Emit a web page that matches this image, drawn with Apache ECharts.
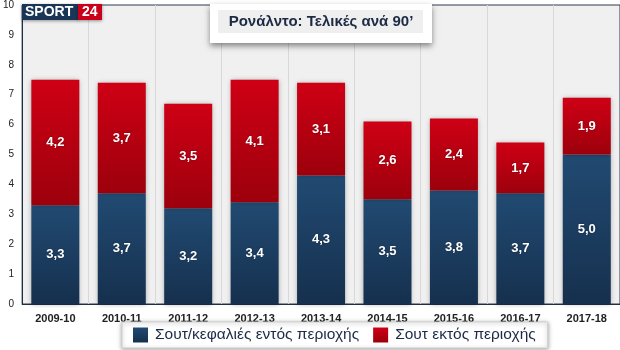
<!DOCTYPE html>
<html>
<head>
<meta charset="utf-8">
<script src="https://cdn.jsdelivr.net/npm/echarts@6/dist/echarts.min.js"></script>
<style>
  html, body { margin: 0; padding: 0; background: #ffffff; }
  #chart { width: 620px; height: 350px; }
</style>
</head>
<body>
<div id="chart"></div>
<script>
// Seasons and per-90 shot breakdown
const seasons = ['2009-10', '2010-11', '2011-12', '2012-13', '2013-14', '2014-15', '2015-16', '2016-17', '2017-18'];
const insideBox = [3.3, 3.7, 3.2, 3.4, 4.3, 3.5, 3.8, 3.7, 5.0];
const outsideBox = [4.2, 3.7, 3.5, 4.1, 3.1, 2.6, 2.4, 1.7, 1.9];
const yTicks = [0, 1, 2, 3, 4, 5, 6, 7, 8, 9, 10];

const seriesNames = ['Σουτ/κεφαλιές εντός περιοχής', 'Σουτ εκτός περιοχής'];
const chartTitle = 'Ρονάλντο: Τελικές ανά 90’';

const FONT = '"Liberation Sans", Arial, sans-serif';
const fmt = p => p.value.toFixed(1).replace('.', ',');

const grad = (top, bottom) => new echarts.graphic.LinearGradient(0, 0, 0, 1, [
  { offset: 0, color: top }, { offset: 1, color: bottom }
]);

const labelStyle = {
  show: true, position: 'inside', color: '#ffffff', fontFamily: FONT,
  fontWeight: 'bold', fontSize: 13, formatter: fmt,
  textShadowColor: 'rgba(0,0,0,0.35)', textShadowBlur: 2
};

const chart = echarts.init(document.getElementById('chart'), null, { renderer: 'canvas' });
chart.setOption({
  animation: false,
  backgroundColor: '#ffffff',
  grid: {
    left: 22, right: 0, top: 4, bottom: 46,
    show: true, backgroundColor: '#f0f0f0', borderColor: '#2b3b4f', borderWidth: 1
  },
  xAxis: {
    type: 'category', data: seasons,
    axisLine: { lineStyle: { color: '#1f2f45', width: 1 } },
    axisTick: { show: false },
    splitLine: { show: true, lineStyle: { color: '#d8d8d8', width: 1 } },
    axisLabel: { color: '#222', fontFamily: FONT, fontWeight: 'bold', fontSize: 11, margin: 9 }
  },
  yAxis: {
    type: 'value', min: 0, max: 10, interval: 1,
    axisLine: { show: true, lineStyle: { color: '#1f2f45', width: 1 } },
    axisTick: { show: false },
    splitLine: { show: false },
    axisLabel: {
      color: '#222', fontFamily: FONT, fontSize: 10, margin: 8,
      formatter: v => (yTicks.includes(v) ? String(v) : '')
    }
  },
  legend: {
    data: seriesNames,
    bottom: 2, left: 122,
    itemWidth: 15, itemHeight: 15, itemGap: 14,
    icon: 'rect',
    backgroundColor: '#ffffff',
    borderColor: '#d0d0d0', borderWidth: 1,
    shadowColor: 'rgba(0,0,0,0.35)', shadowBlur: 4, shadowOffsetY: 1,
    padding: [5, 12, 5, 11],
    textStyle: { color: '#1c2a44', fontFamily: FONT, fontSize: 15.5, padding: [0, 0, 0, 2] }
  },
  series: [
    {
      name: seriesNames[0], type: 'bar', stack: 'shots', data: insideBox,
      barWidth: 48,
      itemStyle: { color: grad('#214a72', '#16304e'), shadowColor: 'rgba(0,0,0,0.35)', shadowBlur: 5 },
      label: labelStyle
    },
    {
      name: seriesNames[1], type: 'bar', stack: 'shots', data: outsideBox,
      barWidth: 48,
      itemStyle: { color: grad('#cf0015', '#9c000c'), shadowColor: 'rgba(0,0,0,0.35)', shadowBlur: 5 },
      label: labelStyle
    }
  ],
  graphic: [
    // logo
    {
      type: 'group', left: 22, top: 4,
      children: [
        { type: 'rect', z: 100, shape: { x: 0, y: 0, width: 57, height: 16 },
          style: { fill: '#1b3556', shadowColor: 'rgba(0,0,0,0.4)', shadowBlur: 3, shadowOffsetY: 1 } },
        { type: 'rect', z: 100, shape: { x: 56, y: 0, width: 24, height: 16 },
          style: { fill: '#c8001a', shadowColor: 'rgba(0,0,0,0.4)', shadowBlur: 3, shadowOffsetY: 1 } },
        { type: 'text', z: 101, x: 3, y: 1,
          style: { text: 'SPORT', fill: '#ffffff', font: 'bold 14px ' + FONT } },
        { type: 'text', z: 101, x: 60, y: 1,
          style: { text: '24', fill: '#ffffff', font: 'bold 14px ' + FONT } }
      ]
    },
    // title box
    {
      type: 'group', left: 210, top: 4,
      children: [
        { type: 'rect', z: 100, shape: { x: 0, y: 0, width: 222, height: 39 },
          style: { fill: '#ffffff', shadowColor: 'rgba(0,0,0,0.45)', shadowBlur: 6, shadowOffsetY: 3 } },
        { type: 'rect', z: 101, shape: { x: 8, y: 6, width: 205, height: 23 },
          style: { fill: '#efefef' } },
        { type: 'text', z: 102, x: 111, y: 18,
          style: { text: chartTitle, fill: '#1c2a44', font: 'bold 15px ' + FONT,
                   textAlign: 'center', textVerticalAlign: 'middle' } }
      ]
    }
  ]
});
</script>
</body>
</html>
